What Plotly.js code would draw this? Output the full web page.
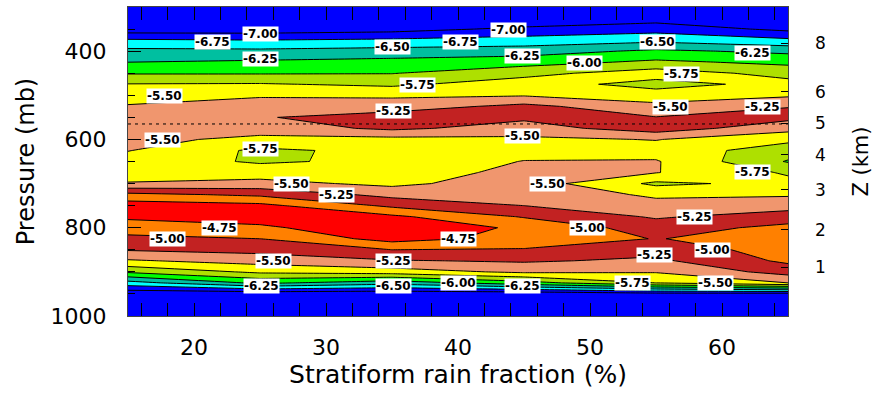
<!DOCTYPE html>
<html>
<head>
<meta charset="utf-8">
<script src="https://cdn.plot.ly/plotly-3.0.1.min.js"></script>
<style>html,body{margin:0;padding:0;background:#fff;}#chart{width:873px;height:393px;}</style>
</head>
<body>
<div id="chart"></div>
<script>
// Stratiform rain fraction (%) grid
const rainFraction = [15, 25, 35, 45, 55, 65];
// Pressure levels (mb)
const pressure = [300,325,350,375,400,425,450,475,500,525,550,575,600,625,650,675,700,725,750,775,800,825,850,875,900,925,950,975,1000];
// Contoured field, one column per rain fraction (top to bottom in pressure)
const col15 = [-7.40,-7.20,-7.15,-6.72,-6.43,-6.25,-6.02,-5.74,-5.61,-5.48,-5.38,-5.36,-5.42,-5.49,-5.62,-5.63,-5.48,-4.93,-4.62,-4.70,-4.89,-5.06,-5.23,-5.53,-5.96,-6.60,-7.20,-7.40,-7.50];
const col25 = [-7.40,-7.20,-7.15,-6.75,-6.44,-6.21,-6.02,-5.73,-5.53,-5.38,-5.27,-5.38,-5.57,-5.80,-5.78,-5.62,-5.42,-5.05,-4.68,-4.62,-4.80,-5.00,-5.17,-5.40,-5.70,-6.20,-7.20,-7.40,-7.50];
const col35 = [-7.40,-7.25,-7.10,-6.71,-6.40,-6.17,-6.01,-5.80,-5.54,-5.38,-5.12,-5.20,-5.58,-5.68,-5.70,-5.65,-5.56,-5.33,-5.05,-4.70,-4.55,-4.65,-5.00,-5.27,-5.62,-6.40,-7.20,-7.40,-7.50];
const col45 = [-7.45,-7.25,-6.94,-6.65,-6.37,-6.10,-5.83,-5.62,-5.52,-5.18,-5.20,-5.36,-5.55,-5.60,-5.49,-5.42,-5.36,-5.30,-5.25,-5.02,-4.80,-4.84,-5.02,-5.22,-5.45,-6.10,-7.20,-7.45,-7.55];
const col55 = [-7.50,-7.12,-6.85,-6.57,-6.20,-5.95,-5.62,-5.85,-5.62,-5.44,-5.24,-5.12,-5.49,-5.60,-5.48,-5.49,-5.80,-5.55,-5.40,-5.28,-5.12,-5.01,-5.16,-5.30,-5.48,-5.75,-7.10,-7.50,-7.60];
const col65 = [-7.50,-7.30,-7.06,-6.70,-6.31,-6.06,-5.84,-5.66,-5.54,-5.26,-5.18,-5.41,-5.69,-5.88,-6.02,-5.78,-5.68,-5.53,-5.35,-5.13,-4.93,-4.88,-4.88,-4.95,-5.15,-5.50,-7.10,-7.50,-7.60];
// Contour levels
const levelStart = -7.0, levelEnd = -4.75, levelStep = 0.25;
// Melting level (mb)
const meltLevel = 565;
// Right axis: height (km) at pressure
const kmPressure = [889, 805, 714, 635, 563, 492, 382];
const kmLabels = ['1', '2', '3', '4', '5', '6', '8'];
// Inline contour labels
const labelX = [25.0,21.4,25.0,17.8,17.6,25.0,27.4,30.8,21.9,18.0,26.0,25.1,35.1,35.1,40.0,40.0,35.0,36.9,35.1,40.2,43.8,44.9,49.6,55.1,62.3,56.9,56.1,63.1,44.9,46.8,62.3,57.9,49.8,54.9,59.3,44.9,53.2,59.5];
const labelP = [361,379,418,502,601,622,701,726,801,825,875,932,875,932,825,925,391,477,536,379,352,411,427,379,404,452,527,527,592,701,674,776,801,862,850,932,925,925];
const labelLevel = [-7.00,-6.75,-6.25,-5.50,-5.50,-5.75,-5.50,-5.25,-4.75,-5.00,-5.50,-6.25,-5.25,-6.50,-4.75,-6.00,-6.50,-5.75,-5.25,-6.75,-7.00,-6.25,-6.00,-6.50,-6.25,-5.75,-5.50,-5.25,-5.50,-5.50,-5.75,-5.25,-5.00,-5.25,-5.00,-6.25,-5.75,-5.50];

const cols = [col15, col25, col35, col45, col55, col65];
const z = pressure.map((p, i) => cols.map(c => c[i]));

const BLUE='#0000FF', CYAN='#00FFFF', TEAL='#00BFA0', GREEN='#00FF00', YG='#AEE000',
      YEL='#FFFF00', SALMON='#F0966E', DRED='#C22222', ORANGE='#FF8000', RED='#FF0000';
const cscale = [[0,BLUE],[0.2,BLUE],[0.2,CYAN],[0.3,CYAN],[0.3,TEAL],[0.4,TEAL],[0.4,GREEN],[0.5,GREEN],
  [0.5,YG],[0.6,YG],[0.6,YEL],[0.7,YEL],[0.7,SALMON],[0.8,SALMON],[0.8,DRED],[0.9,DRED],
  [0.9,ORANGE],[0.975,ORANGE],[0.975,RED],[1,RED]];

const font = 'DejaVu Sans, sans-serif';
const traces = [
  {
    type: 'contour', x: rainFraction, y: pressure, z: z,
    autocontour: false,
    contours: {start: levelStart, end: levelEnd, size: levelStep, coloring: 'fill', showlines: true},
    line: {color: '#000', width: 1, smoothing: 0},
    colorscale: cscale, showscale: false, hoverinfo: 'skip'
  },
  {
    type: 'scatter', mode: 'lines', x: [rainFraction[0], rainFraction[rainFraction.length-1]],
    y: [meltLevel, meltLevel], yaxis: 'y2',
    line: {color: '#000', width: 1, dash: '3px,4px'}, hoverinfo: 'skip', showlegend: false
  }
];

const annotations = labelX.map((x, i) => ({
  x: x, y: labelP[i], xref: 'x', yref: 'y',
  text: labelLevel[i].toFixed(2), showarrow: false,
  bgcolor: '#fff', borderpad: 0,
  font: {family: font, size: 12, color: '#000', weight: 'bold'}
}));

const layout = {
  width: 873, height: 393,
  margin: {l: 128, r: 85, t: 7, b: 77},
  paper_bgcolor: '#fff', plot_bgcolor: '#fff',
  showlegend: false,
  font: {family: font, color: '#000'},
  xaxis: {
    range: [15, 65], tick0: 0, dtick: 10, ticks: 'inside', ticklen: 13, tickcolor: '#000',
    minor: {dtick: 2, ticks: 'inside', ticklen: 7, tickcolor: '#000'},
    showline: true, linecolor: '#444', linewidth: 1, mirror: 'allticks',
    showgrid: false, zeroline: false,
    tickfont: {size: 22}, ticklabelstandoff: 12,
    title: {text: 'Stratiform rain fraction (%)', font: {size: 25}, standoff: 6}
  },
  yaxis: {
    range: [1000, 300], tick0: 0, dtick: 200, ticks: 'inside', ticklen: 13, tickcolor: '#000',
    minor: {dtick: 50, ticks: 'inside', ticklen: 7, tickcolor: '#000'},
    showline: true, linecolor: '#444', linewidth: 1, mirror: true,
    showgrid: false, zeroline: false,
    tickfont: {size: 22}, ticklabelstandoff: 16,
    title: {text: 'Pressure (mb)', font: {size: 24}, standoff: 9}
  },
  yaxis2: {
    overlaying: 'y', side: 'right', anchor: 'x', range: [1000, 300],
    tickvals: kmPressure, ticktext: kmLabels, ticks: 'inside', ticklen: 7, tickcolor: '#000',
    showgrid: false, zeroline: false, showline: false,
    tickfont: {size: 17}, ticklabelstandoff: 26,
    title: {text: 'Z (km)', font: {size: 21}, standoff: 30}
  },
  annotations: annotations
};

Plotly.newPlot('chart', traces, layout, {staticPlot: true, displayModeBar: false});
</script>
</body>
</html>
